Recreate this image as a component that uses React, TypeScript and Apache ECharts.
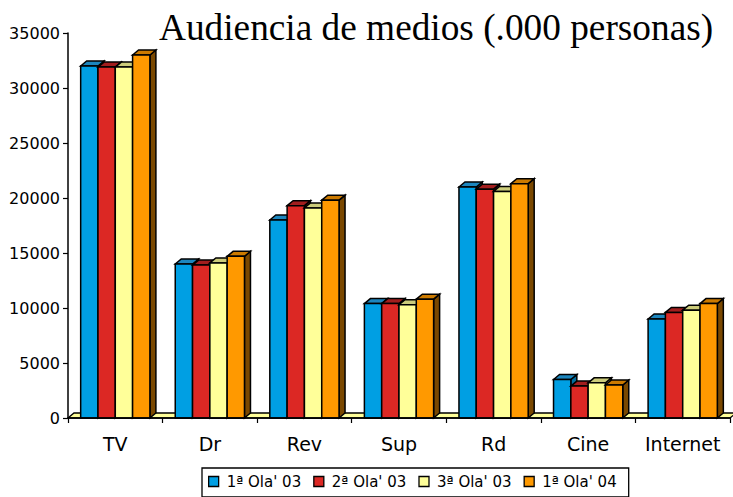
import React, { useEffect, useRef } from "react";
import * as echarts from "echarts";

const categories = ["TV", "Dr", "Rev", "Sup", "Rd", "Cine", "Internet"];
const seriesNames = ["1ª Ola' 03", "2ª Ola' 03", "3ª Ola' 03", "1ª Ola' 04"];
const ola1_03 = [32000, 14000, 18000, 10400, 21000, 3500, 9000];
const ola2_03 = [31900, 13900, 19300, 10400, 20800, 2900, 9600];
const ola3_03 = [31900, 14100, 19100, 10300, 20600, 3200, 9800];
const ola1_04 = [33000, 14700, 19800, 10800, 21300, 3000, 10400];
const allValues = [ola1_03, ola2_03, ola3_03, ola1_04];
const yMin = 0;
const yMax = 35000;
const yInterval = 5000;

const frontColors = ["#009FE3", "#DC2824", "#FFFF99", "#FF9900"];
const topColors = ["#1C86BE", "#A21E1E", "#CCCC7A", "#CC7A00"];
const sideColors = ["#006E9E", "#861A1A", "#B3B36B", "#7A4800"];

const DX = 6;
const DY = 5;
const FONT = "'DejaVu Sans', sans-serif";

export default function App() {
  const ref = useRef<HTMLDivElement>(null);
  useEffect(() => {
    document.body.style.margin = "0";
    if (!ref.current) return;
    const chart = echarts.init(ref.current, undefined, { renderer: "svg" });
    const stroke = { stroke: "#000", lineWidth: 1.5 };

    const barSeries = allValues.map((vals, s) => ({
      type: "custom",
      name: seriesNames[s],
      z: 3,
      itemStyle: { color: frontColors[s], borderColor: "#000", borderWidth: 1 },
      encode: { x: 0, y: 1 },
      data: vals.map((v, i) => [i, v]),
      renderItem: (params: any, api: any) => {
        const idx = api.value(0);
        const v = api.value(1);
        const top = api.coord([idx, v]);
        const base = api.coord([idx, 0]);
        const bw = api.size([1, 0])[0];
        const w = bw * 0.183;
        const x0 = top[0] - 2 * w + s * w;
        const x1 = x0 + w;
        const yT = top[1];
        const yB = base[1];
        return {
          type: "group",
          children: [
            {
              type: "polygon",
              shape: { points: [[x1, yB], [x1 + DX, yB - DY], [x1 + DX, yT - DY], [x1, yT]] },
              style: { fill: sideColors[s], ...stroke },
            },
            {
              type: "polygon",
              shape: { points: [[x0, yT], [x0 + DX, yT - DY], [x1 + DX, yT - DY], [x1, yT]] },
              style: { fill: topColors[s], ...stroke },
            },
            {
              type: "rect",
              shape: { x: x0, y: yT, width: w, height: yB - yT },
              style: { fill: frontColors[s], ...stroke },
            },
          ],
        };
      },
    }));

    const floorSeries = {
      type: "custom",
      name: "floor",
      z: 1,
      silent: true,
      encode: { x: 0, y: 1 },
      data: [[0, 0]],
      renderItem: (params: any, api: any) => {
        const c = api.coord([0, 0]);
        const bw = api.size([1, 0])[0];
        const left = c[0] - bw / 2;
        const right = left + bw * categories.length;
        const yB = c[1];
        return {
          type: "polygon",
          shape: { points: [[left, yB], [left + DX, yB - DY], [right + DX, yB - DY], [right, yB]] },
          style: { fill: "#FFFF99", stroke: "#000", lineWidth: 1.3 },
        };
      },
    };

    chart.setOption({
      animation: false,
      backgroundColor: "#fff",
      title: {
        text: "Audiencia de medios (.000 personas)",
        left: 159,
        top: 9,
        padding: 0,
        textStyle: {
          fontFamily: "'Liberation Serif', 'Times New Roman', serif",
          fontSize: 37.3,
          fontWeight: "normal",
          color: "#000",
        },
      },
      legend: {
        left: 202,
        top: 468,
        orient: "horizontal",
        padding: [6, 12, 8, 6],
        borderColor: "#000",
        borderWidth: 1.3,
        itemWidth: 10,
        itemHeight: 10,
        itemGap: 12,
        icon: "rect",
        textStyle: { fontFamily: FONT, fontSize: 15, color: "#000", padding: [0, 0, 0, 3] },
        data: seriesNames.map((n, s) => ({
          name: n,
          icon: "rect",
          itemStyle: { color: frontColors[s], borderColor: "#000", borderWidth: 1.3 },
        })),
      },
      grid: { left: 68, right: 3, top: 33, bottom: 79 },
      xAxis: {
        type: "category",
        data: categories,
        boundaryGap: true,
        axisLine: { show: true, lineStyle: { color: "#000", width: 1.5 } },
        axisTick: { show: true, alignWithLabel: false, interval: 0, length: 5, lineStyle: { color: "#000", width: 1.2 } },
        axisLabel: { interval: 0, fontFamily: FONT, fontSize: 19, color: "#000", margin: 16 },
        splitLine: { show: false },
        z: 5,
      },
      yAxis: {
        type: "value",
        min: yMin,
        max: yMax,
        interval: yInterval,
        axisLine: { show: true, lineStyle: { color: "#000", width: 1.5 } },
        axisTick: { show: true, length: 5, lineStyle: { color: "#000", width: 1.2 } },
        axisLabel: {
          fontFamily: FONT,
          fontSize: 16,
          color: "#000",
          margin: 8,
          formatter: (v: number) => String(v),
        },
        splitLine: { show: false },
        z: 5,
      },
      series: [floorSeries, ...barSeries],
    });
    return () => chart.dispose();
  }, []);
  return <div ref={ref} style={{ width: 733, height: 497 }} />;
}
